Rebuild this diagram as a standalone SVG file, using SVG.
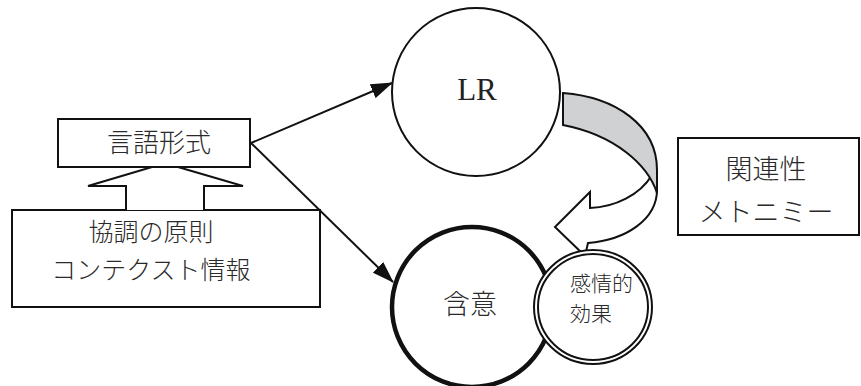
<svg xmlns="http://www.w3.org/2000/svg" width="861" height="386" viewBox="0 0 861 386">
<defs>
<style>
.jp{font-family:"Noto Sans CJK JP","Noto Sans CJK SC",sans-serif;font-weight:300;fill:#2a2a2a;}
.ln{fill:none;stroke:#111;stroke-width:2;}
.box{fill:#fff;stroke:#111;stroke-width:2;}
</style>
<marker id="ah" viewBox="0 0 22 15" refX="21" refY="7.5" markerWidth="22" markerHeight="15" markerUnits="userSpaceOnUse" orient="auto">
<path d="M0,0 L22,7.5 L0,15 Z" fill="#111"/>
</marker>
</defs>
<rect width="861" height="386" fill="#fff"/>

<g id="connectors">
<line class="ln" x1="251" y1="143" x2="392" y2="83" marker-end="url(#ah)"/>
<line class="ln" x1="251" y1="143" x2="393" y2="282" marker-end="url(#ah)"/>
</g>

<g id="context">
<rect class="box" x="12" y="210" width="308" height="97"/>
<text class="jp" x="151" y="241" font-size="25" text-anchor="middle">協調の原則</text>
<text class="jp" x="151" y="279" font-size="25" text-anchor="middle">コンテクスト情報</text>
</g>

<g id="up-arrow">
<path class="box" d="M126,210 L126,186 L88,186 L152,167 L178,167 L243,186 L204,186 L204,210"/>
</g>

<g id="form">
<rect class="box" x="58" y="119" width="192" height="48"/>
<text class="jp" x="159" y="152" font-size="26" text-anchor="middle">言語形式</text>
</g>

<g id="LR">
<circle class="box" cx="476" cy="92" r="84"/>
<text x="477" y="100" font-size="31" text-anchor="middle" font-family="Liberation Serif, serif" fill="#222">LR</text>
</g>

<g id="curved-arrow">
<path d="M652,175 C640,195 615,207 590,208 L590,192 L555,227 L585,256 L588,243 C625,240 658,220 657,188 Z" fill="#fff" stroke="#111" stroke-width="2" stroke-linejoin="miter"/>
<path d="M563,93 C615,97 657,125 657,170 L657,193 C648,165 615,135 563,125 Z" fill="#d0d1d3" stroke="#111" stroke-width="2"/>
</g>

<g id="implicature">
<circle cx="472" cy="307" r="80" fill="#fff" stroke="#111" stroke-width="4.5"/>
<text class="jp" x="470" y="314" font-size="27" text-anchor="middle">含意</text>
</g>

<g id="emotion">
<ellipse cx="593" cy="307" rx="57" ry="55" fill="#fff" stroke="#111" stroke-width="6"/>
<ellipse cx="593" cy="307" rx="57" ry="55" fill="none" stroke="#fff" stroke-width="2"/>
<text class="jp" x="570" y="291" font-size="21">感情的</text>
<text class="jp" x="570" y="321" font-size="21">効果</text>
</g>

<g id="relevance">
<rect class="box" x="678" y="138" width="181" height="97"/>
<text class="jp" x="766" y="179" font-size="27" text-anchor="middle">関連性</text>
<text class="jp" x="766" y="222" font-size="27" text-anchor="middle">メトニミー</text>
</g>
</svg>
